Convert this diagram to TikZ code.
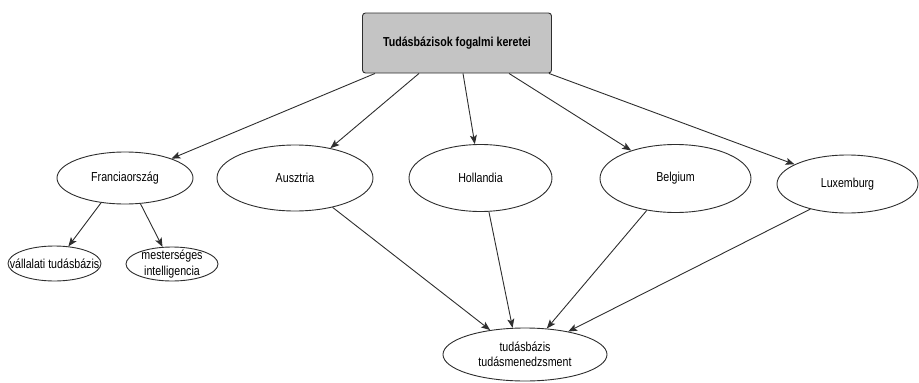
\documentclass[tikz,border=0pt]{standalone}
\usepackage{fontspec}
\setmainfont{Liberation Sans}[FakeStretch=0.82]
\usetikzlibrary{shapes.geometric,arrows.meta}
\definecolor{edgec}{HTML}{2E2E2E}
\definecolor{boxgray}{HTML}{C4C4C4}
\tikzset{
  ell/.style={ellipse, draw=edgec, line width=0.9pt, inner sep=0pt, fill=white},
  lbl/.style={font=\fontsize{13}{15.5}\selectfont, align=center, inner sep=0pt},
  arr/.style={draw=edgec, line width=0.9pt, -{Stealth[length=9pt,width=7pt,inset=2pt]}},
}
\begin{document}
\begin{tikzpicture}[x=1pt,y=-1pt]
\useasboundingbox (0,0) rectangle (919,383);

% title box
\node[draw=edgec, line width=0.9pt, fill=boxgray, rounded corners=3pt,
      minimum width=189pt, minimum height=60pt,
      font=\fontsize{13}{15.5}\selectfont\bfseries] (top) at (457,43) {Tudásbázisok fogalmi keretei};

% countries
\node[ell, minimum width=136pt, minimum height=52pt, label={[lbl]center:Franciaország}] (fr) at (125,178) {};
\node[ell, minimum width=156pt, minimum height=66pt, label={[lbl]center:Ausztria}] (au) at (295,178) {};
\node[ell, minimum width=143pt, minimum height=67pt, label={[lbl]center:Hollandia}] (ho) at (480.5,178) {};
\node[ell, minimum width=151pt, minimum height=68pt, label={[lbl]center:Belgium}] (be) at (675.5,178.5) {};
\node[ell, minimum width=141pt, minimum height=58pt, label={[lbl]center:Luxemburg}] (lu) at (847.5,184) {};

% sub-topics of Franciaország
\node[ell, minimum width=93pt, minimum height=35pt, label={[lbl]center:vállalati tudásbázis}] (va) at (54.5,263.5) {};
\node[ell, minimum width=92pt, minimum height=34pt, label={[lbl]center:mesterséges\\intelligencia}] (mi) at (172,264) {};

% common target
\node[ell, minimum width=164pt, minimum height=53pt, label={[lbl]center:tudásbázis\\tudásmenedzsment}] (tm) at (525,354.5) {};

% start points along the bottom of the title box
\coordinate (s1) at ([xshift=-82pt]top.south);
\coordinate (s2) at ([xshift=-38pt]top.south);
\coordinate (s3) at ([xshift=6pt]top.south);
\coordinate (s4) at ([xshift=52pt]top.south);
\coordinate (s5) at ([xshift=92pt]top.south);

\draw[arr] (s1) -- (fr);
\draw[arr] (s2) -- (au);
\draw[arr] (s3) -- (ho);
\draw[arr] (s4) -- (be);
\draw[arr] (s5) -- (lu);

\draw[arr] (fr.226) -- (va.51);
\draw[arr] (fr.301) -- (mi.119);

\draw[arr] (au.322) -- (tm.145);
\draw[arr] (ho.284) -- (tm.115);
\draw[arr] (be.228) -- (tm.50);
\draw[arr] (lu.214) -- (tm.28);
\end{tikzpicture}
\end{document}
